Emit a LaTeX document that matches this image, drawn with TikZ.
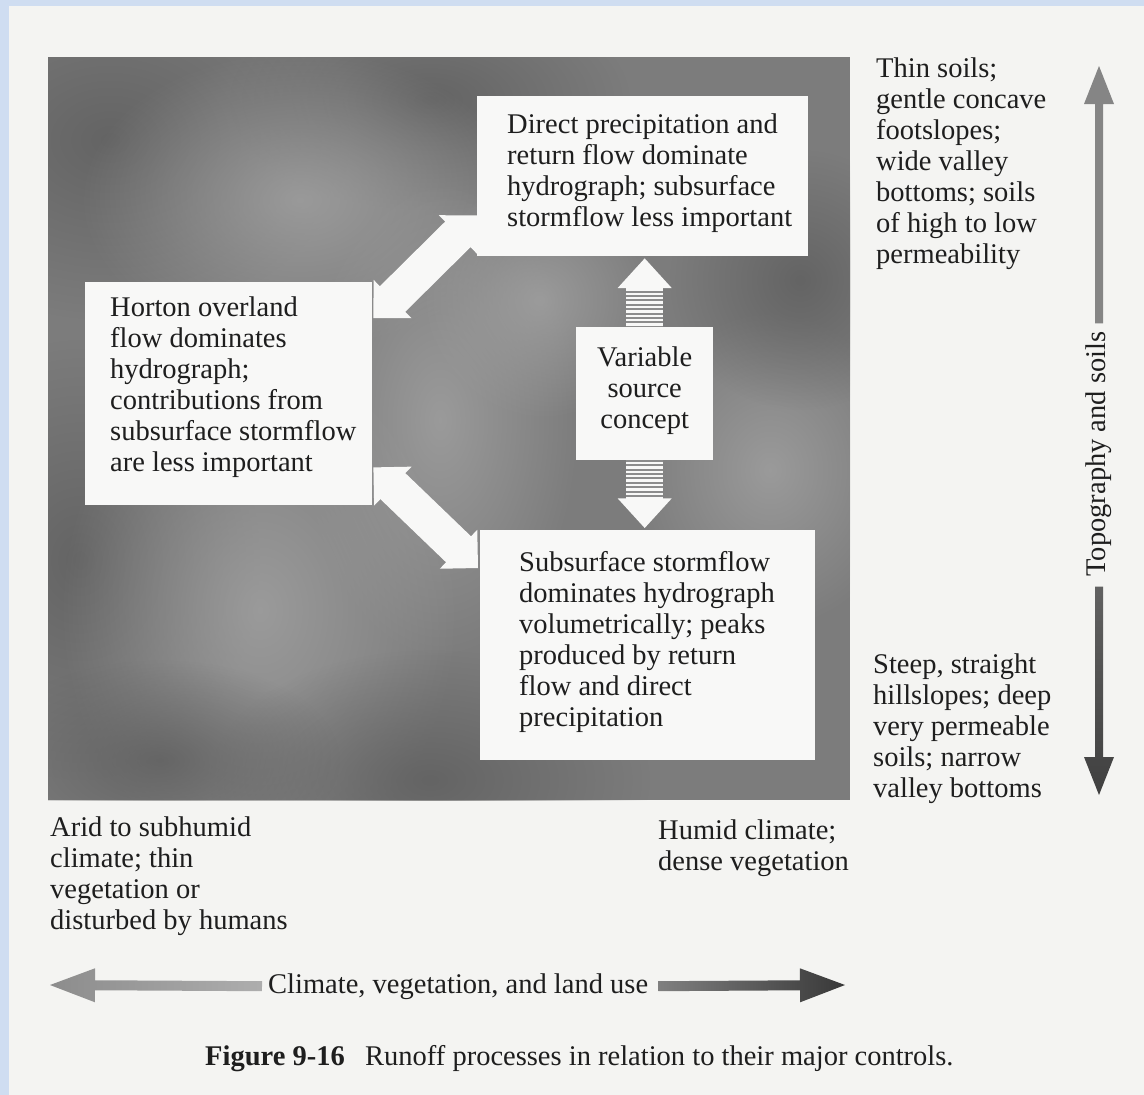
\documentclass[tikz,border=0pt]{standalone}
\usepackage{fontspec}
\setmainfont{Liberation Serif}
\usetikzlibrary{calc,fadings}

\definecolor{paper}{HTML}{F4F4F2}
\definecolor{scanblue}{HTML}{CFDDF1}
\definecolor{slab}{HTML}{7C7C7C}
\definecolor{slablight}{HTML}{A2A2A2}
\definecolor{slabdark}{HTML}{5E5E5E}
\definecolor{boxwhite}{HTML}{F8F8F7}
\definecolor{ink}{HTML}{1E1E1E}
\definecolor{stripegray}{HTML}{8C8C8C}

\newcommand{\bodyfont}{\fontsize{28.5}{31}\selectfont}

% soft round patch for the mottled print tone
\tikzfading[name=softpatch, inner color=transparent!0, outer color=transparent!100]

% text nodes are placed by the baseline of their last line
\tikzset{
  panel/.style={fill=boxwhite, draw=none, inner sep=0pt, anchor=north west},
  txt/.style={inner sep=0pt, align=left, anchor=base west, font=\bodyfont, text=ink},
  ctxt/.style={inner sep=0pt, align=center, anchor=base, font=\bodyfont, text=ink},
  whitearrow/.style={fill=boxwhite},
  stripe/.style={draw=boxwhite, line width=2.4pt},
  lightblob/.style={fill=slablight, path fading=softpatch, fill opacity=0.8},
  darkblob/.style={fill=slabdark, path fading=softpatch, fill opacity=0.8},
}

% block arrow with a head at both ends: tipA, tipB, head length, head half-width, shaft half-width, style
\newcommand{\twoheaded}[6]{%
  \path ($(#1)!#3!(#2)$) coordinate (hA) ($(#2)!#3!(#1)$) coordinate (hB);
  \path[#6] (#1) -- ($(hA)!#4!90:(#2)$) -- ($(hA)!#5!90:(#2)$)
    -- ($(hB)!#5!-90:(#1)$) -- ($(hB)!#4!-90:(#1)$) -- (#2)
    -- ($(hB)!#4!90:(#1)$) -- ($(hB)!#5!90:(#1)$)
    -- ($(hA)!#5!-90:(#2)$) -- ($(hA)!#4!-90:(#2)$) -- cycle;}

% block arrow from a tail to a tip: tail, tip, head length, head half-width, shaft half-width, style
\newcommand{\oneheaded}[6]{%
  \path ($(#2)!#3!(#1)$) coordinate (hB);
  \path[#6] ($(#1)!#5!90:(#2)$) -- ($(hB)!#5!-90:(#1)$) -- ($(hB)!#4!-90:(#1)$)
    -- (#2) -- ($(hB)!#4!90:(#1)$) -- ($(hB)!#5!90:(#1)$)
    -- ($(#1)!#5!-90:(#2)$) -- cycle;}

\begin{document}
\begin{tikzpicture}[x=1pt,y=-1pt]
  \useasboundingbox (0,0) rectangle (1144,1095);

  % page and scanner edge
  \fill[scanblue] (0,0) rectangle (1144,1095);
  \fill[paper] (9,6) rectangle (1144,1095);

  % grey panel with a mottled print tone
  \node[panel, fill=slab, minimum width=802, minimum height=743] (slab) at (48,57) {};
  \begin{scope}
    \clip (slab.north west) rectangle (slab.south east);
    \fill[darkblob]  (110,140) ellipse (240 and 180);
    \fill[darkblob]  (430,100) ellipse (200 and 110);
    \fill[lightblob] (300,200) ellipse (220 and 150);
    \fill[lightblob] (440,420) ellipse (140 and 240);
    \fill[darkblob]  (80,560) ellipse (180 and 220);
    \fill[lightblob] (260,610) ellipse (200 and 260);
    \fill[darkblob]  (430,780) ellipse (220 and 130);
    \fill[lightblob] (770,470) ellipse (140 and 160);
    \fill[darkblob]  (800,280) ellipse (130 and 130);
    \fill[lightblob] (540,300) ellipse (120 and 120);
    \fill[darkblob]  (160,760) ellipse (180 and 100);
  \end{scope}

  % process boxes
  \node[panel, minimum width=331, minimum height=160] (direct)  at (477,96)  {};
  \node[panel, minimum width=287, minimum height=223] (horton)  at (85,282)  {};
  \node[panel, minimum width=137, minimum height=133] (varsrc)  at (576,327) {};
  \node[panel, minimum width=335, minimum height=230] (subsurf) at (480,530) {};

  \node[txt] (directtxt) at ($(direct.north west)+(30,130)$)
    {Direct precipitation and\\return flow dominate\\hydrograph; subsurface\\stormflow less important};
  \node[txt] (hortontxt) at ($(horton.north west)+(25,189)$)
    {Horton overland\\flow dominates\\hydrograph;\\contributions from\\subsurface stormflow\\are less important};
  \node[ctxt] (varsrctxt) at ($(varsrc.north)+(0,101)$)
    {Variable\\source\\concept};
  \node[txt] (subsurftxt) at ($(subsurf.north west)+(39,196)$)
    {Subsurface stormflow\\dominates hydrograph\\volumetrically; peaks\\produced by return\\flow and direct\\precipitation};

  % white double arrows between Horton box and the other two
  \coordinate (ua) at ($(horton.north east)+(1,36)$);
  \coordinate (ub) at ($(direct.south west)+(0,-41)$);
  \twoheaded{ua}{ub}{27pt}{27pt}{18pt}{whitearrow}
  \coordinate (la) at ($(horton.south east)+(1,-38)$);
  \coordinate (lb) at ($(subsurf.north west)+(-2,38)$);
  \twoheaded{la}{lb}{27pt}{27pt}{18pt}{whitearrow}

  % striped arrows from the variable source box
  \fill[stripegray] ($(varsrc.north)+(-18.5,0)$) rectangle ($(varsrc.north)+(18.5,-39)$);
  \foreach \k in {0,...,8}
    \draw[stripe] ($(varsrc.north)+(-18.5,-2.5-4.4*\k)$) -- ++(37,0);
  \fill[whitearrow] ($(varsrc.north)+(-27,-39)$) -- ($(varsrc.north)+(27,-39)$)
    -- ($(direct.south -| varsrc.north)+(0,2)$) -- cycle;

  \fill[stripegray] ($(varsrc.south)+(-18.5,0)$) rectangle ($(varsrc.south)+(18.5,38)$);
  \foreach \k in {0,...,8}
    \draw[stripe] ($(varsrc.south)+(-18.5,2.5+4.4*\k)$) -- ++(37,0);
  \fill[whitearrow] ($(varsrc.south)+(-27,38)$) -- ($(varsrc.south)+(27,38)$)
    -- ($(subsurf.north -| varsrc.south)+(0,-2)$) -- cycle;

  % topography and soils axis
  \node[ctxt, anchor=center, rotate=90] (topo) at (1099,454) {Topography and soils};
  \coordinate (ttail) at ($(topo.east)+(0,-8)$);
  \coordinate (ttip)  at (1099,66);
  \coordinate (btail) at ($(topo.west)+(0,10)$);
  \coordinate (btip)  at (1099,795);
  \oneheaded{ttail}{ttip}{38pt}{15pt}{4pt}{fill=black!48}
  \oneheaded{btail}{btip}{38pt}{15pt}{4pt}{top color=black!62, bottom color=black!75}

  \node[txt] (thin) at (876,263)
    {Thin soils;\\gentle concave\\footslopes;\\wide valley\\bottoms; soils\\of high to low\\permeability};
  \node[txt] (steep) at (873,797)
    {Steep, straight\\hillslopes; deep\\very permeable\\soils; narrow\\valley bottoms};

  % climate axis
  \node[txt] (arid) at (50,929)
    {Arid to subhumid\\climate; thin\\vegetation or\\disturbed by humans};
  \node[txt] (humid) at (658,870)
    {Humid climate;\\dense vegetation};
  \node[txt] (climate) at (268,993) {Climate, vegetation, and land use};
  \coordinate (ltail) at ($(climate.west)+(-6,0)$);
  \coordinate (ltip)  at (50,985);
  \coordinate (rtail) at ($(climate.east)+(10,0)$);
  \coordinate (rtip)  at (845,985);
  \oneheaded{ltail}{ltip}{45pt}{17pt}{5pt}{left color=black!45, right color=black!32}
  \oneheaded{rtail}{rtip}{45pt}{17pt}{5pt}{left color=black!50, right color=black!78}

  % caption
  \node[txt, font=\bodyfont\bfseries] (figno) at (205,1065) {Figure 9-16};
  \node[txt] (caption) at (365,1065) {Runoff processes in relation to their major controls.};
\end{tikzpicture}
\end{document}
